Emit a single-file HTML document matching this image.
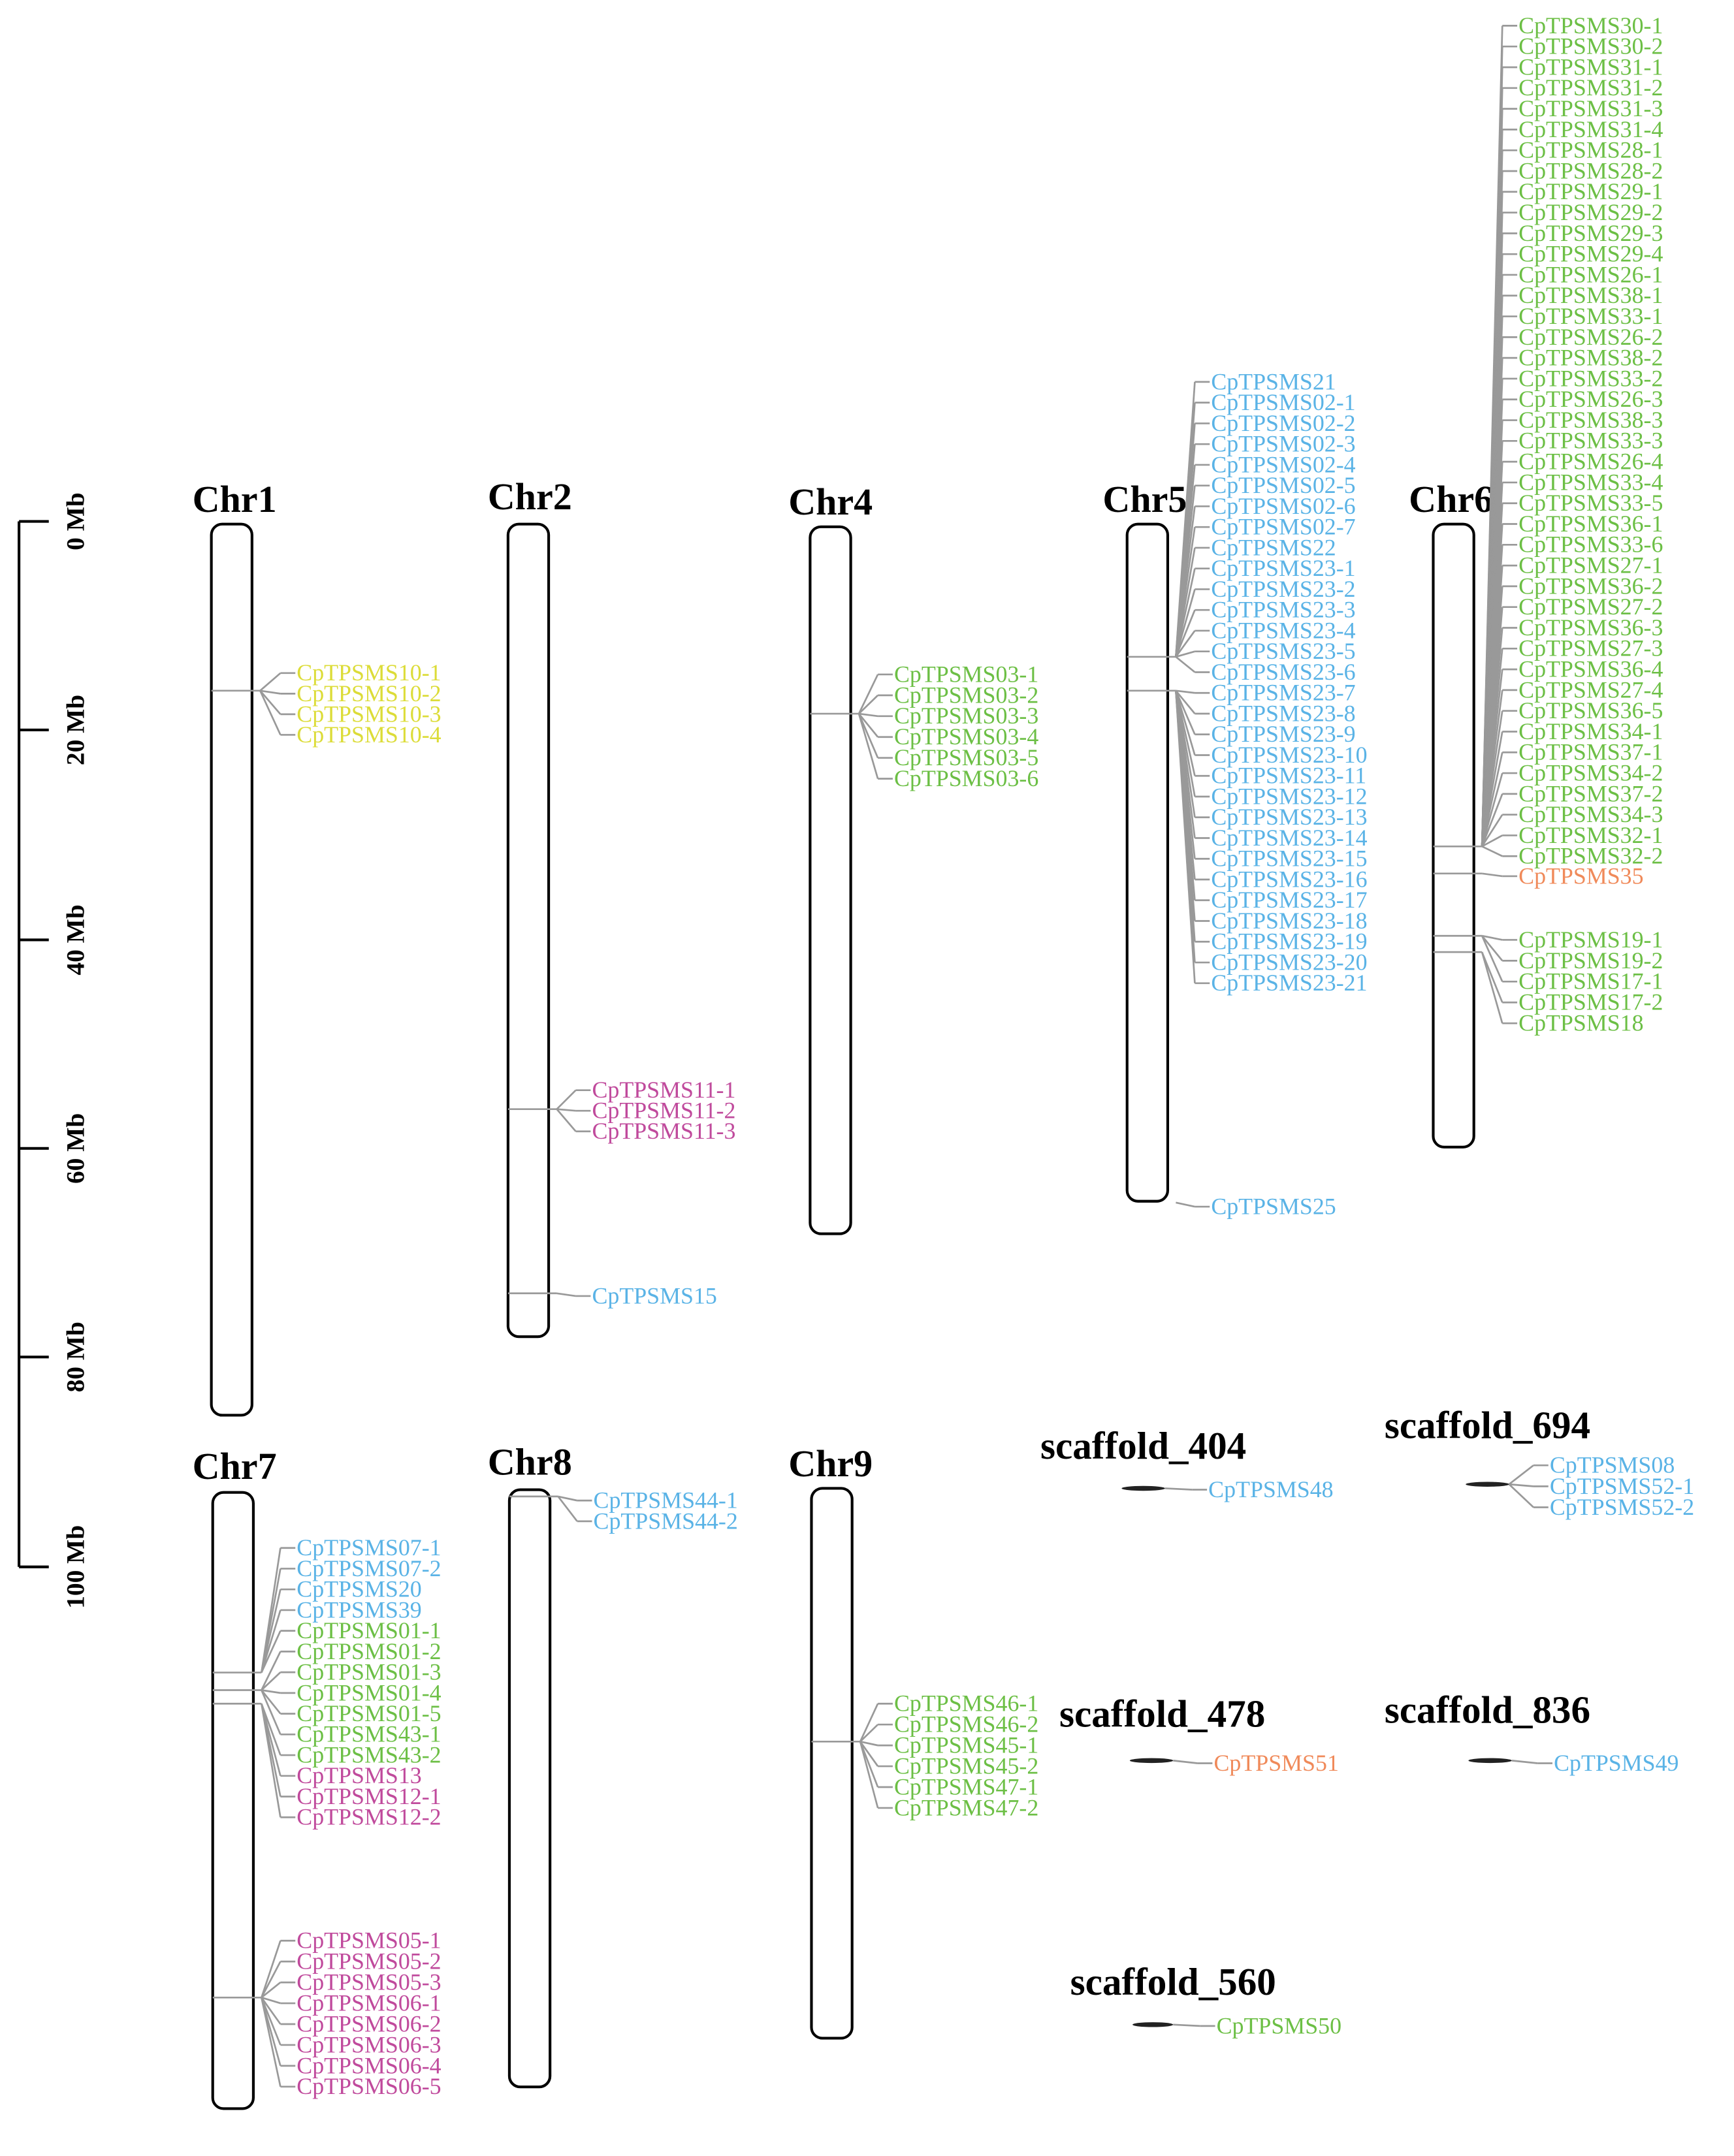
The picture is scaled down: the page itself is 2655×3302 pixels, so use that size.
<!DOCTYPE html>
<html><head><meta charset="utf-8"><style>
html,body{margin:0;padding:0;background:#fff}
svg{display:block}
text{font-family:"Liberation Serif",serif}
.lab{font-size:17.3px}
.chr{font-size:28px;font-weight:bold}
.sc{font-size:28.5px;font-weight:bold}
</style></head><body>
<svg id="s" xmlns="http://www.w3.org/2000/svg" width="2655" height="3302" viewBox="0 0 1280 1592">
<g stroke="#000" stroke-width="2" fill="none">
<line x1="14" y1="385" x2="14" y2="1157"/>
<line x1="14" y1="385" x2="36" y2="385"/><line x1="14" y1="539" x2="36" y2="539"/>
<line x1="14" y1="694" x2="36" y2="694"/><line x1="14" y1="848" x2="36" y2="848"/>
<line x1="14" y1="1002" x2="36" y2="1002"/><line x1="14" y1="1157" x2="36" y2="1157"/>
<rect x="156" y="387" width="30" height="658" rx="8"/>
<rect x="375" y="387" width="30" height="600" rx="8"/>
<rect x="598" y="389" width="30" height="522" rx="8"/>
<rect x="832" y="387" width="30" height="500" rx="8"/>
<rect x="1058" y="387" width="30" height="460" rx="8"/>
<rect x="157" y="1102" width="30" height="455" rx="8"/>
<rect x="376" y="1100" width="30" height="441" rx="8"/>
<rect x="599" y="1099" width="30" height="406" rx="8"/>
</g>
<g fill="#222">
<ellipse cx="844" cy="1099" rx="16" ry="1.8"/>
<ellipse cx="1098" cy="1096" rx="16" ry="1.8"/>
<ellipse cx="850" cy="1300" rx="16" ry="1.8"/>
<ellipse cx="1100" cy="1300" rx="16" ry="1.8"/>
<ellipse cx="851" cy="1495" rx="15" ry="1.8"/>
</g>
<g font-weight="bold" font-size="19" fill="#000">
<text transform="translate(62,385) rotate(-90)" text-anchor="middle">0 Mb</text>
<text transform="translate(62,539) rotate(-90)" text-anchor="middle">20 Mb</text>
<text transform="translate(62,694) rotate(-90)" text-anchor="middle">40 Mb</text>
<text transform="translate(62,848) rotate(-90)" text-anchor="middle">60 Mb</text>
<text transform="translate(62,1002) rotate(-90)" text-anchor="middle">80 Mb</text>
<text transform="translate(62,1157) rotate(-90)" text-anchor="middle">100 Mb</text>
</g>
<g class="chr">
<text x="142" y="378" class="chr">Chr1</text>
<text x="360" y="376" class="chr">Chr2</text>
<text x="582" y="380" class="chr">Chr4</text>
<text x="814" y="378" class="chr">Chr5</text>
<text x="1040" y="378" class="chr">Chr6</text>
<text x="142" y="1092" class="chr">Chr7</text>
<text x="360" y="1089" class="chr">Chr8</text>
<text x="582" y="1090" class="chr">Chr9</text>
<text x="768" y="1077" class="sc">scaffold_404</text>
<text x="1022" y="1062" class="sc">scaffold_694</text>
<text x="782" y="1275" class="sc">scaffold_478</text>
<text x="1022" y="1272" class="sc">scaffold_836</text>
<text x="790" y="1473" class="sc">scaffold_560</text>
</g>
<g id="g"></g>
</svg>
<script>
var Y='#dcdc38',G='#6cbf45',B='#5ab3e6',P='#c04a9c',O='#f08a5a';
var groups=[
{cl:156,cr:186,pos:[510],tx:219,y0:497,st:15.2,c:Y,n:["CpTPSMS10-1","CpTPSMS10-2","CpTPSMS10-3","CpTPSMS10-4"]},
{cl:375,cr:405,pos:[819],tx:437,y0:805,st:15.2,c:P,n:["CpTPSMS11-1","CpTPSMS11-2","CpTPSMS11-3"]},
{cl:375,cr:405,pos:[955],tx:437,y0:957,st:15,c:B,n:["CpTPSMS15"]},
{cl:598,cr:628,pos:[527],tx:660,y0:498,st:15.4,c:G,n:["CpTPSMS03-1","CpTPSMS03-2","CpTPSMS03-3","CpTPSMS03-4","CpTPSMS03-5","CpTPSMS03-6"]},
{cl:832,cr:862,pos:[485,510],tx:894,y0:282,st:15.31,c:B,n:["CpTPSMS21","CpTPSMS02-1","CpTPSMS02-2","CpTPSMS02-3","CpTPSMS02-4","CpTPSMS02-5","CpTPSMS02-6","CpTPSMS02-7","CpTPSMS22","CpTPSMS23-1","CpTPSMS23-2","CpTPSMS23-3","CpTPSMS23-4","CpTPSMS23-5","CpTPSMS23-6","CpTPSMS23-7","CpTPSMS23-8","CpTPSMS23-9","CpTPSMS23-10","CpTPSMS23-11","CpTPSMS23-12","CpTPSMS23-13","CpTPSMS23-14","CpTPSMS23-15","CpTPSMS23-16","CpTPSMS23-17","CpTPSMS23-18","CpTPSMS23-19","CpTPSMS23-20","CpTPSMS23-21"]},
{cl:868,cr:868,pos:[888],tx:894,y0:891,st:15,c:B,n:["CpTPSMS25"],nohz:1},
{cl:1058,cr:1088,pos:[625],tx:1121,y0:19,st:15.33,c:G,n:["CpTPSMS30-1","CpTPSMS30-2","CpTPSMS31-1","CpTPSMS31-2","CpTPSMS31-3","CpTPSMS31-4","CpTPSMS28-1","CpTPSMS28-2","CpTPSMS29-1","CpTPSMS29-2","CpTPSMS29-3","CpTPSMS29-4","CpTPSMS26-1","CpTPSMS38-1","CpTPSMS33-1","CpTPSMS26-2","CpTPSMS38-2","CpTPSMS33-2","CpTPSMS26-3","CpTPSMS38-3","CpTPSMS33-3","CpTPSMS26-4","CpTPSMS33-4","CpTPSMS33-5","CpTPSMS36-1","CpTPSMS33-6","CpTPSMS27-1","CpTPSMS36-2","CpTPSMS27-2","CpTPSMS36-3","CpTPSMS27-3","CpTPSMS36-4","CpTPSMS27-4","CpTPSMS36-5","CpTPSMS34-1","CpTPSMS37-1","CpTPSMS34-2","CpTPSMS37-2","CpTPSMS34-3","CpTPSMS32-1","CpTPSMS32-2"]},
{cl:1058,cr:1088,pos:[645],tx:1121,y0:647,st:15,c:O,n:["CpTPSMS35"]},
{cl:1058,cr:1088,pos:[691,703],tx:1121,y0:694,st:15.4,c:G,n:["CpTPSMS19-1","CpTPSMS19-2","CpTPSMS17-1","CpTPSMS17-2","CpTPSMS18"]},
{cl:157,cr:187,pos:[1235,1248,1258],tx:219,y0:1143,st:15.3,c:[B,B,B,B,G,G,G,G,G,G,G,P,P,P],n:["CpTPSMS07-1","CpTPSMS07-2","CpTPSMS20","CpTPSMS39","CpTPSMS01-1","CpTPSMS01-2","CpTPSMS01-3","CpTPSMS01-4","CpTPSMS01-5","CpTPSMS43-1","CpTPSMS43-2","CpTPSMS13","CpTPSMS12-1","CpTPSMS12-2"]},
{cl:157,cr:187,pos:[1475],tx:219,y0:1433,st:15.4,c:P,n:["CpTPSMS05-1","CpTPSMS05-2","CpTPSMS05-3","CpTPSMS06-1","CpTPSMS06-2","CpTPSMS06-3","CpTPSMS06-4","CpTPSMS06-5"]},
{cl:376,cr:406,pos:[1105],tx:438,y0:1108,st:15.3,c:B,n:["CpTPSMS44-1","CpTPSMS44-2"]},
{cl:599,cr:629,pos:[1286],tx:660,y0:1258,st:15.4,c:G,n:["CpTPSMS46-1","CpTPSMS46-2","CpTPSMS45-1","CpTPSMS45-2","CpTPSMS47-1","CpTPSMS47-2"]},
{cl:860,cr:860,pos:[1099],tx:892,y0:1100,st:15,c:B,n:["CpTPSMS48"],nohz:1},
{cl:1114,cr:1114,pos:[1096],tx:1144,y0:1082,st:15.5,c:B,n:["CpTPSMS08","CpTPSMS52-1","CpTPSMS52-2"],nohz:1},
{cl:866,cr:866,pos:[1300],tx:896,y0:1302,st:15,c:O,n:["CpTPSMS51"],nohz:1},
{cl:1116,cr:1116,pos:[1300],tx:1147,y0:1302,st:15,c:B,n:["CpTPSMS49"],nohz:1},
{cl:866,cr:866,pos:[1495],tx:898,y0:1496,st:15,c:G,n:["CpTPSMS50"],nohz:1}
];
var NS='http://www.w3.org/2000/svg',g=document.getElementById('g');
function ln(x1,y1,x2,y2){var l=document.createElementNS(NS,'polyline');l.setAttribute('points',x1+','+y1+' '+x2+','+y2);l.setAttribute('stroke','#999');l.setAttribute('stroke-width','1.3');l.setAttribute('fill','none');g.appendChild(l);}
groups.forEach(function(q){
 var fx=q.cr+ (q.nohz?0:6);
 q.pos.forEach(function(p){ if(!q.nohz) ln(q.cl,p,fx,p); });
 var np=q.pos.length;
 q.n.forEach(function(name,i){
  var y=q.y0+i*q.st;
  var p=q.pos[Math.min(np-1,Math.floor(i*np/q.n.length))];
  ln(fx,p,q.tx-12,y);ln(q.tx-12,y,q.tx-1,y);
  var t=document.createElementNS(NS,'text');t.setAttribute('x',q.tx);t.setAttribute('y',y+5.5);
  t.setAttribute('class','lab');t.setAttribute('fill',Array.isArray(q.c)?q.c[i]:q.c);t.textContent=name;g.appendChild(t);
 });
});
</script>
</body></html>
